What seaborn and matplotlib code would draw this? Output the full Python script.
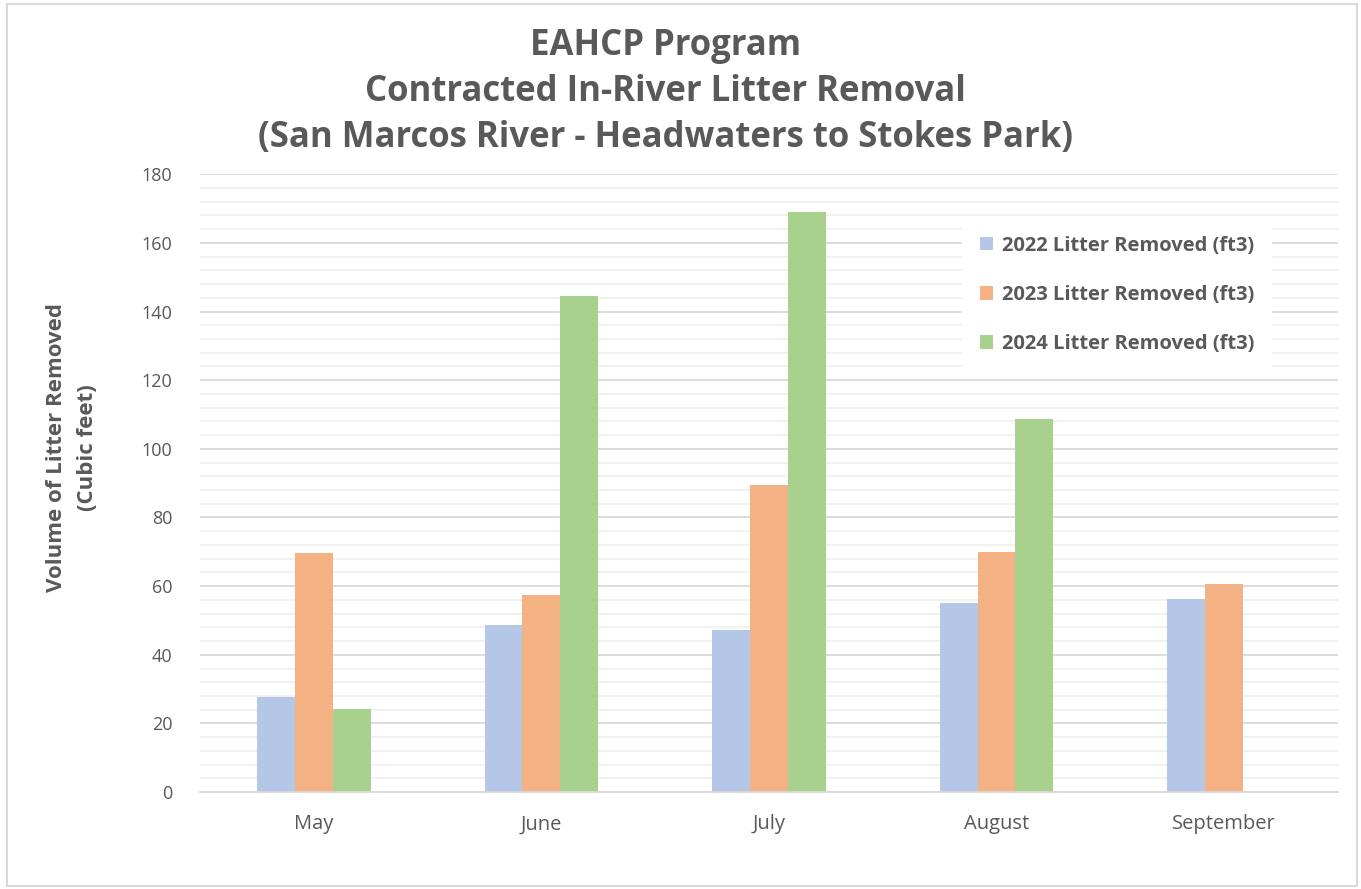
import matplotlib
matplotlib.use("Agg")
import matplotlib.pyplot as plt
import seaborn as sns
import pandas as pd
from matplotlib.ticker import MultipleLocator
from matplotlib.patches import Rectangle

months = ["May", "June", "July", "August", "September"]
series = ["2022 Litter Removed (ft3)", "2023 Litter Removed (ft3)", "2024 Litter Removed (ft3)"]
vals_2022 = [27.7, 48.6, 47.2, 55.0, 56.2]
vals_2023 = [69.6, 57.4, 89.4, 69.9, 60.6]
vals_2024 = [24.2, 144.6, 169.0, 108.6, 0]
colors = ["#B4C7E7", "#F4B183", "#A9D18E"]

rows = []
for s, vals in zip(series, [vals_2022, vals_2023, vals_2024]):
    for m, v in zip(months, vals):
        rows.append({"Month": m, "Series": s, "Value": v})
df = pd.DataFrame(rows)

sns.set_style("white")
plt.rcParams['font.family'] = ['Open Sans', 'DejaVu Sans']
txt = "#595959"

fig = plt.figure(figsize=(13.61, 8.89), dpi=100)
ax = fig.add_axes([0.147, 0.109, 0.836, 0.695])

sns.barplot(data=df, x="Month", y="Value", hue="Series", palette=colors,
            width=0.5, saturation=1, ax=ax, gap=0, linewidth=0)

ax.set_ylim(0, 180)
ax.yaxis.set_major_locator(MultipleLocator(20))
ax.yaxis.set_minor_locator(MultipleLocator(4))
ax.grid(axis="y", which="major", color="#D9D9D9", linewidth=1.3)
ax.grid(axis="y", which="minor", color="#F0F0F0", linewidth=1.3)
ax.set_axisbelow(True)
for sp in ["top", "right", "left"]:
    ax.spines[sp].set_visible(False)
ax.spines["bottom"].set_color("#D9D9D9")
ax.spines["bottom"].set_linewidth(1.3)
ax.tick_params(axis="both", which="both", length=0, colors=txt)
ax.tick_params(axis="x", labelsize=14.5, pad=16)
ax.tick_params(axis="y", labelsize=13, pad=20)
ax.set_xlim(-0.5, 4.5)
ax.set_xlabel("")
ax.set_ylabel("Volume of Litter Removed\n(Cubic feet)", fontsize=16, fontweight="bold",
              color=txt, linespacing=1.6)
ax.yaxis.set_label_coords(-0.09, 0.557)

leg = ax.legend(loc="upper left", bbox_to_anchor=(0.67, 0.928), frameon=True,
                fontsize=14.5, labelspacing=1.45, handlelength=0.65, handleheight=0.65,
                handletextpad=0.45, borderpad=0.85, borderaxespad=0)
leg.get_frame().set_facecolor("white")
leg.get_frame().set_edgecolor("white")
leg.get_frame().set_alpha(1)
for t in leg.get_texts():
    t.set_color(txt)
    t.set_fontweight("bold")

fig.text(0.489, 0.969, "EAHCP Program\nContracted In-River Litter Removal\n(San Marcos River - Headwaters to Stokes Park)",
         ha="center", va="top", fontsize=25, fontweight="bold", color=txt, linespacing=1.37)

fig.patches.append(Rectangle((0.005, 0.003), 0.992, 0.993, transform=fig.transFigure,
                             fill=False, edgecolor="#D9D9D9", linewidth=1.5))

fig.savefig("out.png", dpi=100)
